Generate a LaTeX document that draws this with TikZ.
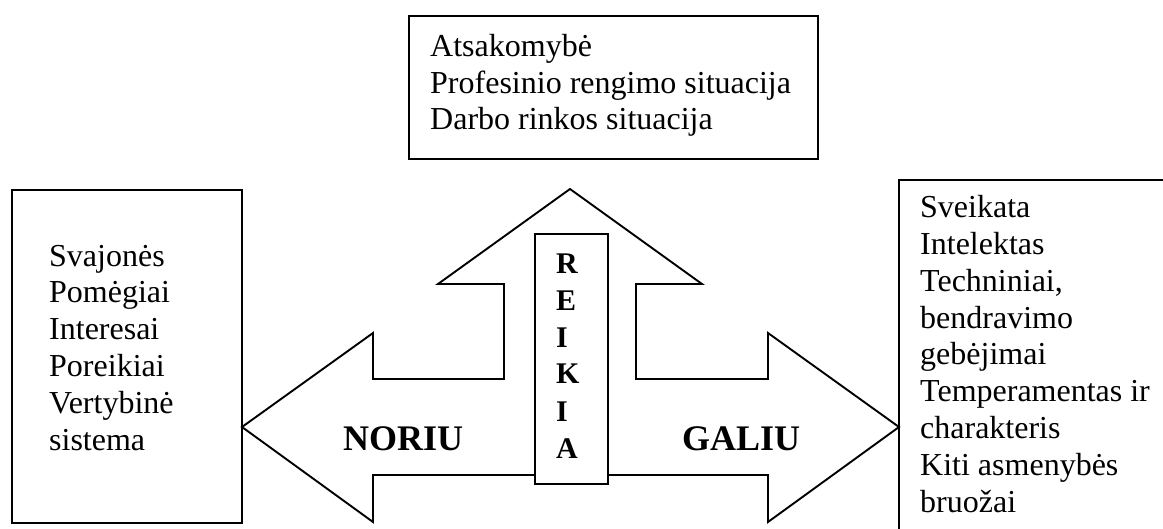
\documentclass[tikz,border=0pt]{standalone}
\usepackage{fontspec}
\setmainfont{Liberation Serif}
\begin{document}
\begin{tikzpicture}[x=1pt,y=-1pt,
  box/.style={draw, line width=1.9pt, fill=white, inner sep=0pt, anchor=north west},
  txt/.style={font=\fontsize{32}{36.8}\selectfont, align=left, inner sep=0pt, anchor=base west},
  vert/.style={font=\bfseries\fontsize{30}{37}\selectfont, align=left, inner sep=0pt, anchor=base west},
  big/.style={font=\bfseries\fontsize{36}{40}\selectfont, inner sep=0pt, anchor=base west},
  arrowshape/.style={draw, line width=1.9pt, line join=miter, fill=white}]
\clip (0,0) rectangle (1163,529);
% boxes
\node[box, minimum width=409, minimum height=143] (top) at (408,15) {};
\node[box, minimum width=230, minimum height=333] (left) at (11,189) {};
\node[box, minimum width=400, minimum height=420] (right) at (898,179) {};
% arrow shape
\draw[arrowshape] (570,189) -- (702,284) -- (636,284) -- (636,379) -- (768,379)
  -- (768,333) -- (899,427) -- (768,522) -- (768,475) -- (373,475)
  -- (373,522) -- (242,427) -- (373,333) -- (373,379) -- (504,379)
  -- (504,284) -- (438,284) -- cycle;
\node[box, minimum width=73, minimum height=250] (reikiabox) at (534,233) {};
% texts (base anchor = baseline of the last line)
\node[txt] (toptext) at (430,130) {Atsakomybė\\Profesinio rengimo situacija\\Darbo rinkos situacija};
\node[txt] (lefttext) at (49,450) {Svajonės\\Pomėgiai\\Interesai\\Poreikiai\\Vertybinė\\sistema};
\node[txt] (righttext) at (920,512) {Sveikata\\Intelektas\\Techniniai,\\bendravimo\\gebėjimai\\Temperamentas ir\\charakteris\\Kiti asmenybės\\bruožai};
\node[vert] (reikia) at (556,458) {R\\E\\I\\K\\I\\A};
\node[big] (noriu) at (343,450) {NORIU};
\node[big] (galiu) at (682,450) {GALIU};
\end{tikzpicture}
\end{document}
